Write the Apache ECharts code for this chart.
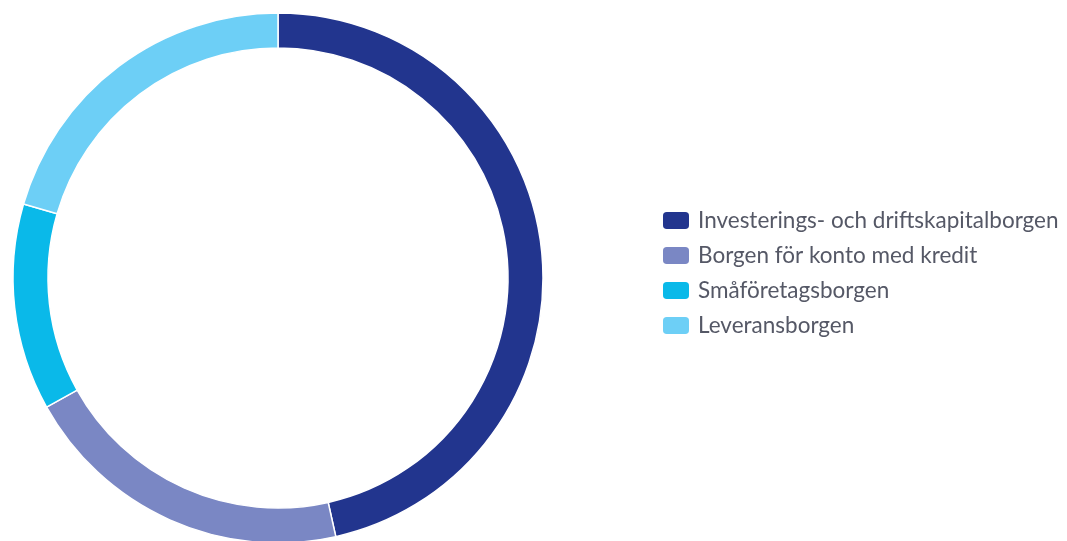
<!DOCTYPE html>
<html>
<head>
<meta charset="utf-8">
<script src="https://cdn.jsdelivr.net/npm/echarts@6/dist/echarts.min.js"></script>
<style>
  html, body { margin: 0; padding: 0; background: #fff; }
  #chart { width: 1067px; height: 541px; }
</style>
</head>
<body>
<div id="chart"></div>
<script>
// andelar i procent, lästa ur bilden
const categories = [
  'Investerings- och driftskapitalborgen',
  'Borgen för konto med kredit',
  'Småföretagsborgen',
  'Leveransborgen'
]
const values = [46.5, 20.4, 12.6, 20.5]
const colorList = ['#22358e', '#7a87c4', '#0ab9e9', '#6dcff6']

const myChart = echarts.init(document.getElementById('chart'))
let option = {
  color: colorList,
  legend: {
    orient: 'vertical',
    left: 656,
    top: 204,
    itemWidth: 28,
    itemHeight: 19,
    itemGap: 12,
    icon: 'roundRect',
    textStyle: {
      fontFamily: 'Lato',
      fontSize: 22.5,
      lineHeight: 20,
      color: '#555866',
      padding: [0, 0, 0, 3]
    },
    data: categories
  },
  series: [
    {
      type: 'pie',
      center: [278, 278],
      radius: [230, 265],
      startAngle: 90,
      clockwise: true,
      label: { show: false },
      labelLine: { show: false },
      emphasis: { disabled: true },
      itemStyle: {
        borderColor: '#fff',
        borderWidth: 1.5
      },
      data: categories.map((name, i) => ({ name: name, value: values[i] }))
    }
  ]
}
myChart.setOption(option)
</script>
</body>
</html>
